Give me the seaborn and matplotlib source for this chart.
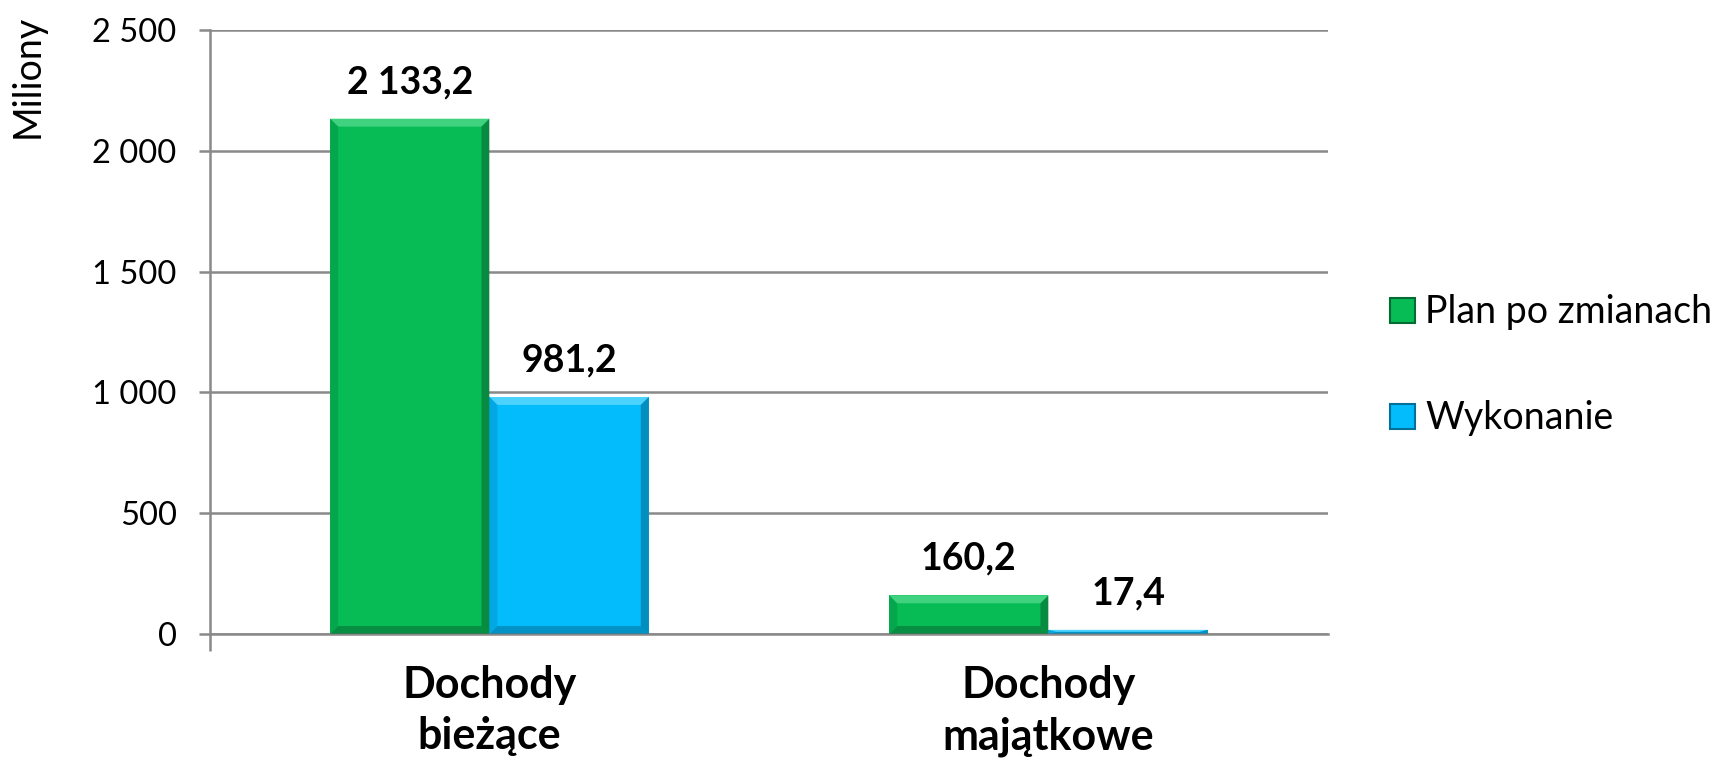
import matplotlib
matplotlib.use('Agg')
import matplotlib.pyplot as plt
from matplotlib.patches import Polygon
from matplotlib.lines import Line2D
import seaborn as sns
import pandas as pd

# dane
kategorie = ['Dochody\nbieżące', 'Dochody\nmajątkowe']
serie = ['Plan po zmianach', 'Wykonanie']
plan = [2133.2, 160.2]
wykonanie = [981.2, 17.4]
yticks = [0, 500, 1000, 1500, 2000, 2500]

kolory = {'Plan po zmianach': '#07BB55', 'Wykonanie': '#03BCFB'}
ciemne = {'Plan po zmianach': '#066B33', 'Wykonanie': '#03709A'}
jasne = {'Plan po zmianach': '#4FD98A', 'Wykonanie': '#5FD8FF'}

df = pd.DataFrame({
    'kategoria': kategorie * 2,
    'seria': [serie[0]] * 2 + [serie[1]] * 2,
    'wartosc': plan + wykonanie,
})

def fmt(v, dec=1):
    return f'{v:,.{dec}f}'.replace(',', ' ').replace('.', ',')

sns.set_theme(style='white', rc={'text.color': 'black', 'xtick.color': 'black',
                                 'ytick.color': 'black', 'axes.labelcolor': 'black'})
plt.rcParams['font.family'] = ['Lato', 'DejaVu Sans']

W, H = 1731, 764
fig = plt.figure(figsize=(W / 100, H / 100), dpi=100)
ax = fig.add_axes([210 / W, 1 - 634 / H, 1118 / W, 604 / H])

sns.barplot(data=df, x='kategoria', y='wartosc', hue='seria', hue_order=serie,
            palette=kolory, width=0.57, gap=0, saturation=1, ax=ax,
            edgecolor='none', legend=False)

ax.set_xlim(-0.5, 1.5)
ax.set_ylim(0, 2500)

# efekt fazy na słupkach
px_x = 1118 / 2.0
px_y = 604 / 2500
bx = 8 / px_x
by = 8 / px_y
seria_dla_patcha = [serie[0]] * 2 + [serie[1]] * 2
for p, s in zip(ax.patches, seria_dla_patcha):
    x0, y0 = p.get_x(), p.get_y()
    w, h = p.get_width(), p.get_height()
    x1, y1 = x0 + w, y0 + h
    b_y = min(by, h / 2)
    b_x = min(bx, w / 2)
    top = Polygon([(x0, y1), (x1, y1), (x1 - b_x, y1 - b_y), (x0 + b_x, y1 - b_y)],
                  closed=True, fc=jasne[s], ec='none', alpha=0.8, zorder=3)
    bottom = Polygon([(x0, y0), (x1, y0), (x1 - b_x, y0 + b_y), (x0 + b_x, y0 + b_y)],
                     closed=True, fc=ciemne[s], ec='none', alpha=0.55, zorder=3)
    right = Polygon([(x1, y0), (x1, y1), (x1 - b_x, y1 - b_y), (x1 - b_x, y0 + b_y)],
                    closed=True, fc=ciemne[s], ec='none', alpha=0.6, zorder=3)
    left = Polygon([(x0, y0), (x0, y1), (x0 + b_x, y1 - b_y), (x0 + b_x, y0 + b_y)],
                   closed=True, fc=ciemne[s], ec='none', alpha=0.25, zorder=3)
    for poly in (top, bottom, right, left):
        ax.add_patch(poly)
    ax.annotate(fmt(h), (x0 + w / 2, y1), xytext=(0, 14), textcoords='offset points',
                ha='center', va='bottom', fontsize=27, fontweight='bold', color='black')

# osie i siatka
ax.set_yticks(yticks)
ax.set_yticklabels([fmt(v, 0) for v in yticks], fontsize=23.5)
ax.yaxis.grid(True, color='#898989', linewidth=1.8)
ax.set_axisbelow(True)
ax.tick_params(axis='y', length=8, width=1.8, color='#898989', labelcolor='black', pad=16, left=True)
ax.set_xticks([-0.5], minor=True)
ax.tick_params(axis='x', which='minor', length=12, width=1.8, color='#898989', bottom=True)
ax.tick_params(axis='x', which='major', length=0, pad=22, labelcolor='black')
ax.set_xticklabels(kategorie, fontsize=31, fontweight='bold', linespacing=1.35)
for side in ['top', 'right']:
    ax.spines[side].set_visible(False)
for side in ['left', 'bottom']:
    ax.spines[side].set_color('#898989')
    ax.spines[side].set_linewidth(1.8)
ax.set_xlabel('')
ax.set_ylabel('')

fig.text(28 / W, 1 - 76 / H, 'Miliony', rotation=90, ha='center', va='center',
         fontsize=27, color='black')

# legenda
uchwyty = [Line2D([0], [0], marker='s', linestyle='none', markersize=18,
                  markerfacecolor=kolory[s], markeredgecolor=ciemne[s], markeredgewidth=1.5)
           for s in serie]
leg = fig.legend(uchwyty, serie, loc='center left', bbox_to_anchor=(1389 / W, 1 - 365 / H),
                 frameon=False, fontsize=27, handletextpad=0.3, labelspacing=1.85,
                 handlelength=0.67, borderpad=0, borderaxespad=0)
for t in leg.get_texts():
    t.set_color('black')

fig.savefig('out.png', dpi=100)
